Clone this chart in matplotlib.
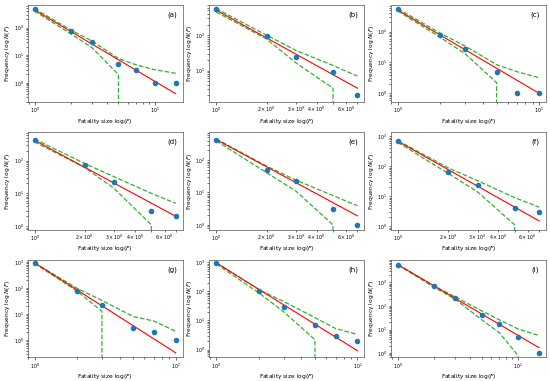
import numpy as np
import matplotlib.pyplot as plt

# fatality sizes (x) and cumulative frequencies N(F) per panel
panel_names = ["(a)", "(b)", "(c)", "(d)", "(e)", "(f)", "(g)", "(h)", "(i)"]

x_a = [1, 2, 3, 5, 7, 10, 15]
n_a = [466, 73, 29, 5, 3, 1, 1]
fit_a = [440, 0.4]
up_a = [490, 83, 33, 7.6, 4.5, 3, 2.2]
lo_a = [400, 60, 19, 2, 0, 0, 0]

x_b = [1, 2, 3, 5, 7]
n_b = [535, 94, 24, 9, 2]
fit_b = [510, 3.2]
up_b = [560, 100, 37, 14, 7]
lo_b = [450, 78, 16.5, 3.2, 0]

x_c = [1, 2, 3, 5, 7, 10]
n_c = [530, 79, 28, 5, 1, 1]
fit_c = [500, 1]
up_c = [560, 89, 34, 8.5, 5, 3.2]
lo_c = [470, 65, 19, 2.2, 0, 0]

x_d = [1, 2, 3, 5, 7]
n_d = [435, 71, 22, 3, 2]
fit_d = [415, 2]
up_d = [455, 81, 32, 10, 5]
lo_d = [370, 61, 14, 1.1, 0]

x_e = [1, 2, 3, 5, 7]
n_e = [427, 49, 22, 3, 1]
fit_e = [427, 1.9]
up_e = [447, 65, 24, 8, 3.9]
lo_e = [390, 41, 11, 1.0, 0]

x_f = [1, 2, 3, 5, 7]
n_f = [690, 66, 24, 4, 3]
fit_f = [690, 1.5]
up_f = [720, 89, 33, 9, 4.3]
lo_f = [630, 58, 14, 1.1, 0]

x_g = [1, 2, 3, 5, 7, 10]
n_g = [950, 79, 22, 3, 2, 1]
fit_g = [950, 0.33]
up_g = [950, 100, 34, 8.2, 5.5, 2.2]
lo_g = [900, 78, 13, 0, 0, 0]

x_h = [1, 2, 3, 5, 7, 10]
n_h = [950, 100, 30, 7, 3, 2]
fit_h = [950, 0.92]
up_h = [980, 115, 45, 12.5, 5.3, 3.3]
lo_h = [880, 89, 20, 2.2, 0, 0]

x_i = [1, 2, 3, 5, 7, 10, 15]
n_i = [5700, 680, 220, 40, 18, 5, 1]
fit_i = [5700, 1.7]
up_i = [5800, 720, 245, 62, 26, 10.7, 5.6]
lo_i = [5600, 630, 195, 26, 7.3, 0.8, 0]

y_limits = [(0.2, 690), (1.3, 730), (0.52, 760),
            (0.78, 730), (0.71, 720), (0.76, 1380),
            (0.22, 1230), (0.54, 1200), (0.66, 9100)]

panels = [
    (x_a, n_a, fit_a, up_a, lo_a),
    (x_b, n_b, fit_b, up_b, lo_b),
    (x_c, n_c, fit_c, up_c, lo_c),
    (x_d, n_d, fit_d, up_d, lo_d),
    (x_e, n_e, fit_e, up_e, lo_e),
    (x_f, n_f, fit_f, up_f, lo_f),
    (x_g, n_g, fit_g, up_g, lo_g),
    (x_h, n_h, fit_h, up_h, lo_h),
    (x_i, n_i, fit_i, up_i, lo_i),
]

fig, axes = plt.subplots(3, 3, figsize=(5.5, 3.81), dpi=100)
fig.subplots_adjust(left=0.05, right=0.993, bottom=0.062, top=0.988,
                    wspace=0.17, hspace=0.31)

for ax, (x, n, fit, up, lo), name, ylim in zip(axes.flat, panels, panel_names, y_limits):
    ax.set_xscale('log')
    ax.set_yscale('log')
    # confidence band (lower bound drops to zero -> clipped on log axis)
    ax.plot(x, up, '--', color='#33b033', lw=0.9)
    ax.plot(x, lo, '--', color='#33b033', lw=0.9)
    ax.plot([x[0], x[-1]], fit, '-', color='red', lw=0.8)
    ax.plot(x, n, 'o', color='#1f77b4', ms=3)
    ax.set_ylim(*ylim)

    ax.text(0.93, 0.9, name, transform=ax.transAxes, ha='center', va='center',
            fontsize=5)
    ax.set_xlabel('Fatality size log$(F)$', fontsize=4.2, labelpad=1)
    ax.set_ylabel('Frequency log $N(F)$', fontsize=4.2, labelpad=1)
    ax.tick_params(which='both', labelsize=3.4, width=0.4, pad=1)
    ax.tick_params(which='major', length=1.8)
    ax.tick_params(which='minor', length=1.1)
    for s in ax.spines.values():
        s.set_linewidth(0.5)
        s.set_color('#555555')

fig.savefig('out.png', dpi=100)
